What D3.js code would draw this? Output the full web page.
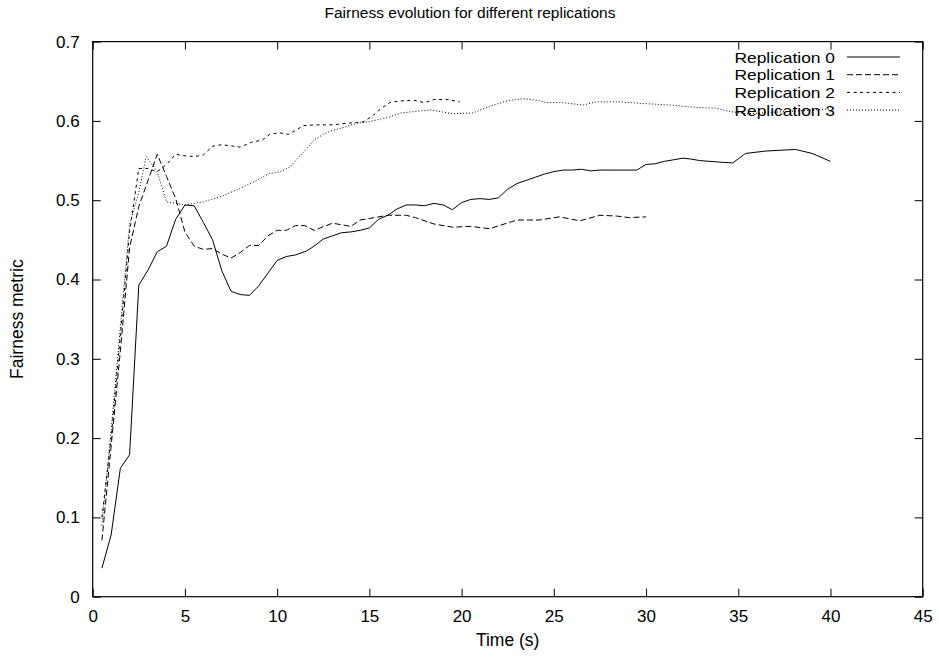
<!doctype html>
<html>
<head>
    <meta charset="UTF-8">
    <title>fairness</title>
    <script src="https://d3js.org/d3.v7.min.js"></script>
    <style>
        body { margin:0; background:#fff; }
        text { font-family: "Liberation Sans", Arial, sans-serif; fill:#000; }
    </style>
</head>
<body>
    <script>
        var w=939, h=657;
        var m={top:41.6, right:16.3, bottom:60.3, left:92.7};

        var title="Fairness evolution for different replications";
        var xLabel="Time (s)", yLabel="Fairness metric";
        var xTicks=[0,5,10,15,20,25,30,35,40,45];
        var yTicks=[0,0.1,0.2,0.3,0.4,0.5,0.6,0.7];
        var names=["Replication 0","Replication 1","Replication 2","Replication 3"];

        // Replication 0
        var x0=[0.5,1,1.5,2,2.5,3,3.5,4,4.5,5,5.5,6,6.5,7,7.5,8,8.5,9,9.5,10,10.5,11,11.6,12,12.5,13,13.5,14,14.5,15,15.5,16,16.5,17,17.5,18,18.5,19,19.5,20,20.5,21,21.5,22,22.5,23,23.5,24,24.5,25,25.5,26,26.5,27,27.5,28,28.5,29,29.5,30,30.5,31,31.5,32,32.4,32.9,34,34.7,35.4,36.5,38.1,39,40];
        var y0=[0.036,0.078,0.162,0.179,0.393,0.412,0.435,0.442,0.476,0.494,0.493,0.472,0.450,0.411,0.385,0.381,0.380,0.392,0.408,0.424,0.429,0.431,0.436,0.442,0.451,0.455,0.459,0.460,0.462,0.465,0.476,0.481,0.489,0.494,0.494,0.493,0.496,0.494,0.488,0.497,0.501,0.502,0.501,0.503,0.514,0.521,0.525,0.529,0.533,0.536,0.538,0.538,0.539,0.537,0.538,0.538,0.538,0.538,0.538,0.545,0.546,0.549,0.551,0.553,0.552,0.550,0.548,0.547,0.559,0.562,0.564,0.559,0.549];

        // Replication 1
        var x1=[0.5,1,1.5,2,2.5,3,3.5,4,4.5,5,5.5,6,6.5,7,7.5,8,8.5,9,9.5,10,10.5,11,11.5,12,13,14,14.5,15,16,17,17.5,18.5,19.5,20.5,21.5,23,24.2,25.3,26.4,27.5,28.4,29.1,30];
        var y1=[0.071,0.19,0.31,0.44,0.492,0.525,0.558,0.530,0.502,0.460,0.442,0.438,0.439,0.432,0.427,0.434,0.443,0.443,0.455,0.462,0.462,0.468,0.468,0.462,0.471,0.467,0.475,0.477,0.481,0.481,0.478,0.470,0.466,0.467,0.464,0.475,0.475,0.479,0.474,0.481,0.480,0.478,0.479];

        // Replication 2
        var x2=[0.5,1,1.5,2,2.5,3,3.5,4,4.5,5,5.5,6,6.5,7,8,8.6,9.2,9.6,10.1,10.6,11,11.4,12.1,13,13.8,14.3,14.7,15.2,15.6,16.1,16.6,17.4,18,18.5,19.2,19.9];
        var y2=[0.100,0.20,0.33,0.46,0.540,0.540,0.536,0.545,0.558,0.556,0.555,0.557,0.568,0.570,0.567,0.573,0.576,0.583,0.585,0.583,0.588,0.594,0.595,0.595,0.597,0.598,0.599,0.607,0.615,0.623,0.625,0.626,0.623,0.627,0.627,0.624];

        // Replication 3
        var x3=[0.5,1,1.5,2,2.5,2.9,3.5,4,4.5,5,5.5,6,7,8,8.9,9.5,10.2,10.7,11.2,11.6,12,12.5,13,13.8,14.3,15,16.1,16.7,18.3,19.5,20.6,21.5,22.4,23.3,24.1,24.6,25.5,26.6,27.3,28.6,29.8,31.3,32.7,33.8,34.5,35.5,37,38.5,40];
        var y3=[0.090,0.21,0.34,0.47,0.510,0.555,0.536,0.498,0.496,0.494,0.496,0.498,0.505,0.515,0.525,0.533,0.536,0.542,0.555,0.565,0.576,0.583,0.588,0.593,0.597,0.599,0.605,0.610,0.614,0.609,0.610,0.618,0.625,0.628,0.626,0.623,0.623,0.620,0.624,0.624,0.622,0.620,0.617,0.616,0.612,0.609,0.611,0.613,0.615];

        var xs=[x0,x1,x2,x3], ys=[y0,y1,y2,y3];
        var dashes=[null,"6,3","3,3.5","1,2"];

        var svg=d3.select("body").append("svg").attr("width",w).attr("height",h);
        var pw=w-m.left-m.right, ph=h-m.top-m.bottom;

        var x=d3.scaleLinear().domain([0,45]).range([m.left,m.left+pw]);
        var y=d3.scaleLinear().domain([0,0.7]).range([m.top+ph,m.top]);

        // axes, ticks pointing inward on all four sides
        var tl=8;
        svg.append("g").attr("transform","translate(0,"+(m.top+ph)+")")
            .call(d3.axisBottom(x).tickValues(xTicks).tickSizeInner(-tl).tickSizeOuter(0).tickPadding(13).tickFormat(d3.format("d")));
        svg.append("g").attr("transform","translate(0,"+m.top+")")
            .call(d3.axisTop(x).tickValues(xTicks).tickSizeInner(-tl).tickSizeOuter(0).tickFormat(""));
        svg.append("g").attr("transform","translate("+m.left+",0)")
            .call(d3.axisLeft(y).tickValues(yTicks).tickSizeInner(-tl).tickSizeOuter(0).tickPadding(13)
                .tickFormat(function(d){ return d===0 ? "0" : d3.format(".1f")(d); }));
        svg.append("g").attr("transform","translate("+(m.left+pw)+",0)")
            .call(d3.axisRight(y).tickValues(yTicks).tickSizeInner(-tl).tickSizeOuter(0).tickFormat(""));

        svg.selectAll(".domain").remove();
        svg.selectAll(".tick line").attr("stroke","#000").attr("stroke-width",1);
        svg.selectAll(".tick text").style("font-size","17px").style("font-family","'Liberation Sans', Arial, sans-serif").attr("fill","#000");

        svg.append("rect").attr("x",m.left).attr("y",m.top).attr("width",pw).attr("height",ph)
            .attr("fill","none").attr("stroke","#000").attr("stroke-width",1.2);

        var line=d3.line().x(function(d){ return x(d[0]); }).y(function(d){ return y(d[1]); });

        xs.forEach(function(xv,k){
            var pts=xv.map(function(v,i){ return [v,ys[k][i]]; });
            svg.append("path").datum(pts).attr("d",line)
                .attr("fill","none").attr("stroke","#000").attr("stroke-width",1)
                .attr("stroke-dasharray",dashes[k]);
        });

        // legend (text a bit wide and short, like the original)
        var lg=svg.append("g");
        names.forEach(function(n,k){
            var yy=57+k*17.7;
            lg.append("text").attr("transform","translate(835,"+(yy+5.5)+") scale(1.16,1)")
                .attr("text-anchor","end").style("font-size","15px").text(n);
            lg.append("line").attr("x1",847).attr("x2",900).attr("y1",yy).attr("y2",yy)
                .attr("stroke","#000").attr("stroke-width",1).attr("stroke-dasharray",dashes[k]);
        });

        svg.append("text").attr("x",470).attr("y",18).attr("text-anchor","middle")
            .style("font-size","15.5px").text(title);
        svg.append("text").attr("x",x(22.5)).attr("y",646).attr("text-anchor","middle")
            .style("font-size","17.5px").text(xLabel);
        svg.append("text").attr("transform","translate(23,"+(m.top+ph/2)+") rotate(-90)")
            .attr("text-anchor","middle").style("font-size","17.5px").text(yLabel);
    </script>
</body>
</html>
